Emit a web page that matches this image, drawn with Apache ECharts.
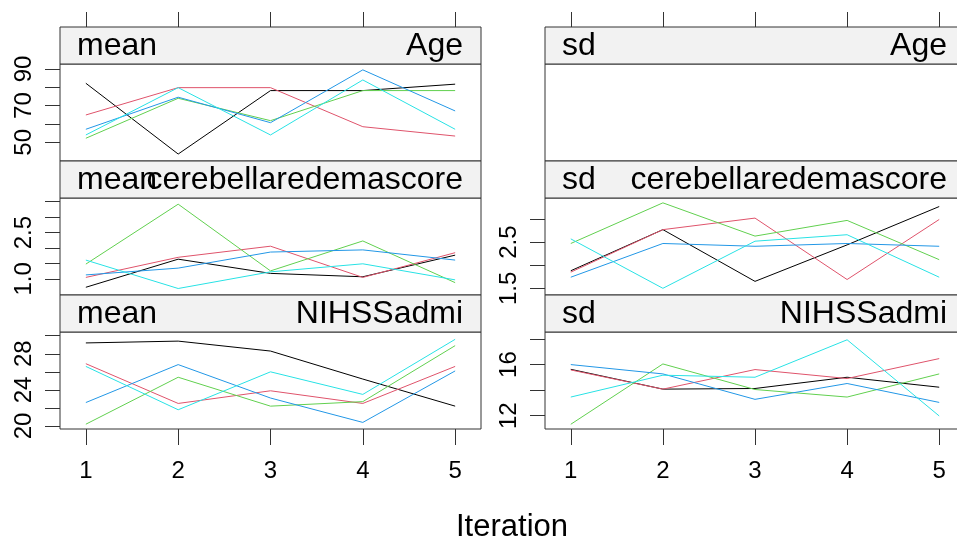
<!DOCTYPE html>
<html><head><meta charset="utf-8">
<script src="https://cdn.jsdelivr.net/npm/echarts@6/dist/echarts.min.js"></script>
<style>html,body{margin:0;padding:0;background:#fff}#c{width:957px;height:540px}</style>
</head><body><div id="c"></div>
<script>
// ---- data ----
const iterations = [1, 2, 3, 4, 5];
const chainColors = ['#000000', '#DF536B', '#61D04F', '#2297E6', '#28E2E5'];
// each row = one chain (1..5), values at iterations 1..5
const meanAge = [
  [82.2, 43.6, 78.2, 78.2, 81.7],
  [64.9, 79.8, 79.8, 58.5, 53.4],
  [52.2, 74.0, 61.8, 78.2, 78.2],
  [57.1, 74.6, 60.7, 89.5, 67.1],
  [54.0, 79.8, 54.0, 84.0, 57.1]
];
const meanCereb = [
  [0.73, 1.64, 1.18, 1.07, 1.77],
  [1.05, 1.70, 2.06, 1.05, 1.85],
  [1.48, 3.42, 1.26, 2.23, 0.88],
  [1.13, 1.35, 1.87, 1.94, 1.61],
  [1.61, 0.69, 1.23, 1.49, 0.97]
];
const meanNIHSS = [
  [29.2, 29.4, 28.3, 25.2, 22.2],
  [26.9, 22.5, 23.9, 22.5, 26.6],
  [20.2, 25.4, 22.2, 22.7, 28.9],
  [22.6, 26.8, 23.1, 20.4, 26.1],
  [26.6, 21.8, 26.0, 23.5, 29.6]
];
const sdAge = [];
const sdCereb = [
  [1.88, 2.77, 1.65, 2.44, 3.27],
  [1.85, 2.77, 3.02, 1.69, 2.99],
  [2.47, 3.35, 2.63, 2.97, 2.12],
  [1.74, 2.47, 2.41, 2.47, 2.41],
  [2.57, 1.50, 2.52, 2.66, 1.74]
];
const sdNIHSS = [
  [15.63, 14.08, 14.13, 15.01, 14.23],
  [15.58, 14.08, 15.61, 14.91, 16.47],
  [11.33, 16.05, 14.05, 13.46, 15.27],
  [16.00, 15.27, 13.28, 14.52, 13.04],
  [13.46, 15.17, 15.01, 17.94, 11.98]
];
// tick marks and shown tick labels per panel
const xTicks = [1, 2, 3, 4, 5];
const meanAgeTicks = [50, 60, 70, 80, 90];
const meanAgeLabels = [50, 70, 90];
const meanCerebTicks = [1.0, 1.5, 2.0, 2.5, 3.0, 3.5];
const meanCerebLabels = [1.0, 2.5];
const meanNIHSSTicks = [20, 22, 24, 26, 28, 30];
const meanNIHSSLabels = [20, 24, 28];
const sdCerebTicks = [1.5, 2.0, 2.5, 3.0];
const sdCerebLabels = [1.5, 2.5];
const sdNIHSSTicks = [12, 14, 16, 18];
const sdNIHSSLabels = [12, 16];
const statNames = ['mean', 'sd'];
const varNames = ['Age', 'cerebellaredemascore', 'NIHSSadmi'];
const xLabel = 'Iteration';

// ---- layout ----
const FONT = "'Liberation Sans', Arial, sans-serif";
const colLeft = [60, 545], colWidth = [421, 420];
const rowTop = [27, 161, 295];
const stripH = 37, plotH = 97;
const AX = '#333333';

const panels = [
  {r:0, c:0, data: meanAge, ticks: meanAgeTicks, labels: meanAgeLabels, min: 39.8, max: 92.7, dec: 0},
  {r:0, c:1, data: sdAge, ticks: [], labels: [], min: 1, max: 2, dec: 0},
  {r:1, c:0, data: meanCereb, ticks: meanCerebTicks, labels: meanCerebLabels, min: 0.48, max: 3.62, dec: 1},
  {r:1, c:1, data: sdCereb, ticks: sdCerebTicks, labels: sdCerebLabels, min: 1.355, max: 3.455, dec: 1},
  {r:2, c:0, data: meanNIHSS, ticks: meanNIHSSTicks, labels: meanNIHSSLabels, min: 19.67, max: 30.41, dec: 0},
  {r:2, c:1, data: sdNIHSS, ticks: sdNIHSSTicks, labels: sdNIHSSLabels, min: 10.96, max: 18.55, dec: 0}
];

const grid = [], xAxis = [], yAxis = [], series = [], graphic = [];
panels.forEach((p, i) => {
  const L = colLeft[p.c], W = colWidth[p.c], T = rowTop[p.r];
  grid.push({left: L, top: T + stripH, width: W, height: plotH, show: true,
    borderColor: AX, borderWidth: 1, backgroundColor: 'transparent',
    containLabel: false, outerBoundsMode: 'none'});
  const isTop = p.r === 0, isBottom = p.r === 2;
  xAxis.push({type: 'value', gridIndex: i, min: 0.72, max: 5.28,
    position: isTop ? 'top' : 'bottom', offset: isTop ? stripH : 0,
    splitLine: {show: false}, axisLine: {show: false, onZero: false},
    axisTick: {show: isTop || isBottom, length: isTop ? 15 : 16, inside: false,
      customValues: xTicks, lineStyle: {color: AX, width: 1}},
    axisLabel: {show: isBottom, customValues: xTicks, margin: 30,
      fontFamily: FONT, fontSize: 24, color: '#000'}
  });
  const dec = p.dec;
  const hasY = p.ticks.length > 0;
  yAxis.push({type: 'value', gridIndex: i, min: p.min, max: p.max, position: 'left',
    splitLine: {show: false}, axisLine: {show: false, onZero: false},
    axisTick: {show: hasY, length: 15, inside: false,
      customValues: hasY ? p.ticks : undefined, lineStyle: {color: AX, width: 1}},
    axisLabel: {show: hasY, customValues: hasY ? p.labels : undefined, rotate: 90, margin: 24,
      fontFamily: FONT, fontSize: 24, color: '#000',
      formatter: v => Number(v).toFixed(dec)}
  });
  chainColors.forEach((col, k) => {
    const chain = p.data[k];
    series.push({type: 'line', xAxisIndex: i, yAxisIndex: i, symbol: 'none',
      data: chain ? iterations.map((it, j) => [it, chain[j]]) : [],
      lineStyle: {color: col, width: 1}, itemStyle: {color: col},
      silent: true, animation: false, z: 2});
  });
  // strip
  graphic.push({type: 'rect', shape: {x: L, y: T, width: W, height: stripH},
    style: {fill: '#F2F2F2', stroke: AX, lineWidth: 1}, z: 10});
  graphic.push({type: 'text', x: L + 17, y: T + stripH / 2 + 1,
    style: {text: statNames[p.c], font: '32px ' + FONT, fill: '#000',
      textAlign: 'left', textVerticalAlign: 'middle'}, z: 11});
  graphic.push({type: 'text', x: L + W - 18, y: T + stripH / 2 + 1,
    style: {text: varNames[p.r], font: '32px ' + FONT, fill: '#000',
      textAlign: 'right', textVerticalAlign: 'middle'}, z: 11});
});
graphic.push({type: 'text', x: 512, y: 527,
  style: {text: xLabel, font: '31px ' + FONT, fill: '#000',
    textAlign: 'center', textVerticalAlign: 'middle'}, z: 11});

const chart = echarts.init(document.getElementById('c'), null, {renderer: 'canvas'});
chart.setOption({animation: false, grid, xAxis, yAxis, series, graphic});
</script></body></html>
